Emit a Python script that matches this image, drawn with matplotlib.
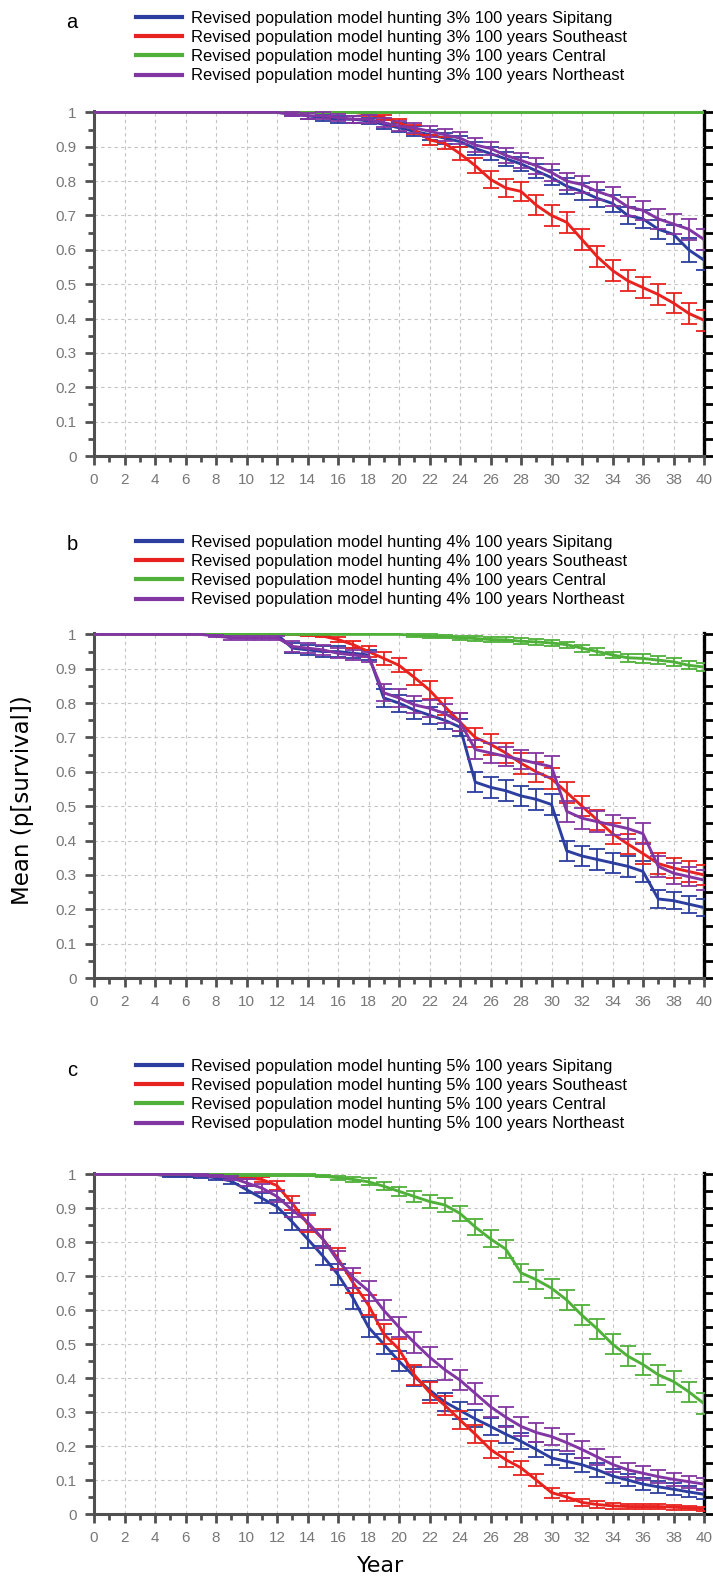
import numpy as np
import matplotlib
matplotlib.use('Agg')
import matplotlib.pyplot as plt
from matplotlib.ticker import MultipleLocator, FuncFormatter
from matplotlib.lines import Line2D

# years of the simulation
years = list(range(41))
sites = ['Sipitang', 'Southeast', 'Central', 'Northeast']
rates = ['3%', '4%', '5%']
panel_letters = ['a', 'b', 'c']
colors = ['#2c3e9f', '#e8221f', '#4fb13a', '#8236a3']

# ---- panel a, hunting 3% ----
a_sip = [1, 1, 1, 1, 1, 1, 1, 1, 1, 1, 1, 1, 1, 0.995, 0.99, 0.985, 0.98, 0.98, 0.975, 0.965,
         0.955, 0.945, 0.935, 0.925, 0.915, 0.895, 0.88, 0.865, 0.85, 0.83, 0.81, 0.785, 0.77, 0.75,
         0.735, 0.70, 0.69, 0.66, 0.645, 0.60, 0.57]
a_sip_err = [0, 0, 0, 0, 0, 0, 0, 0, 0, 0, 0, 0, 0, 0.005, 0.01, 0.01, 0.01, 0.01, 0.01, 0.012,
             0.013, 0.015, 0.015, 0.016, 0.017, 0.018, 0.019, 0.02, 0.02, 0.021, 0.022, 0.023, 0.024,
             0.025, 0.025, 0.026, 0.027, 0.028, 0.028, 0.035, 0.03]
a_se = [1, 1, 1, 1, 1, 1, 1, 1, 1, 1, 1, 1, 1, 1, 1, 1, 1, 1, 0.995, 0.985,
        0.97, 0.95, 0.92, 0.91, 0.88, 0.845, 0.805, 0.78, 0.77, 0.73, 0.70, 0.68, 0.63, 0.58,
        0.54, 0.51, 0.49, 0.47, 0.445, 0.415, 0.395]
a_se_err = [0, 0, 0, 0, 0, 0, 0, 0, 0, 0, 0, 0, 0, 0, 0, 0, 0, 0, 0.005, 0.008,
            0.01, 0.012, 0.015, 0.017, 0.02, 0.022, 0.024, 0.026, 0.028, 0.03, 0.03, 0.03, 0.03,
            0.03, 0.03, 0.03, 0.03, 0.03, 0.03, 0.03, 0.03]
a_cen = [1] * 41
a_cen_err = [0] * 41
a_ne = [1, 1, 1, 1, 1, 1, 1, 1, 1, 1, 1, 1, 1, 0.995, 0.99, 0.99, 0.985, 0.98, 0.98, 0.97,
        0.96, 0.955, 0.945, 0.935, 0.925, 0.905, 0.895, 0.875, 0.86, 0.845, 0.825, 0.80, 0.79,
        0.77, 0.755, 0.725, 0.715, 0.69, 0.675, 0.66, 0.63]
a_ne_err = [0, 0, 0, 0, 0, 0, 0, 0, 0, 0, 0, 0, 0, 0.005, 0.008, 0.01, 0.01, 0.01, 0.012, 0.013,
            0.014, 0.015, 0.016, 0.017, 0.018, 0.019, 0.02, 0.021, 0.022, 0.023, 0.024, 0.025,
            0.025, 0.026, 0.027, 0.028, 0.028, 0.029, 0.03, 0.03, 0.03]

# ---- panel b, hunting 4% ----
b_sip = [1, 1, 1, 1, 1, 1, 1, 1, 1, 1, 1, 1, 1, 0.96, 0.955, 0.95, 0.95, 0.945, 0.94, 0.815,
         0.80, 0.78, 0.765, 0.75, 0.73, 0.57, 0.555, 0.545, 0.53, 0.52, 0.505, 0.37, 0.355,
         0.345, 0.335, 0.325, 0.31, 0.23, 0.225, 0.215, 0.205]
b_sip_err = [0, 0, 0, 0, 0, 0, 0, 0, 0, 0, 0, 0, 0, 0.015, 0.015, 0.015, 0.015, 0.015, 0.015,
             0.025, 0.025, 0.025, 0.025, 0.025, 0.025, 0.03, 0.03, 0.03, 0.03, 0.03, 0.03, 0.03,
             0.03, 0.03, 0.03, 0.03, 0.03, 0.025, 0.025, 0.025, 0.025]
b_se = [1, 1, 1, 1, 1, 1, 1, 1, 1, 1, 1, 1, 1, 1, 0.998, 0.995, 0.985, 0.97, 0.95, 0.93,
        0.91, 0.875, 0.838, 0.79, 0.745, 0.70, 0.68, 0.655, 0.625, 0.60, 0.58, 0.54, 0.50,
        0.46, 0.42, 0.39, 0.362, 0.333, 0.32, 0.31, 0.30]
b_se_err = [0, 0, 0, 0, 0, 0, 0, 0, 0, 0, 0, 0, 0, 0, 0.002, 0.003, 0.008, 0.01, 0.015, 0.018,
            0.02, 0.022, 0.025, 0.025, 0.027, 0.028, 0.03, 0.03, 0.03, 0.03, 0.03, 0.03, 0.03,
            0.03, 0.03, 0.03, 0.03, 0.03, 0.03, 0.03, 0.03]
b_cen = [1, 1, 1, 1, 1, 1, 1, 1, 1, 1, 1, 1, 1, 1, 1, 1, 1, 1, 1, 1,
         1, 0.997, 0.995, 0.993, 0.99, 0.988, 0.985, 0.984, 0.98, 0.978, 0.975, 0.97, 0.96,
         0.95, 0.94, 0.932, 0.93, 0.925, 0.92, 0.91, 0.905]
b_cen_err = [0, 0, 0, 0, 0, 0, 0, 0, 0, 0, 0, 0, 0, 0, 0, 0, 0, 0, 0, 0,
             0, 0.004, 0.005, 0.005, 0.005, 0.006, 0.006, 0.007, 0.008, 0.008, 0.008, 0.009, 0.01,
             0.01, 0.01, 0.011, 0.012, 0.012, 0.012, 0.012, 0.012]
b_ne = [1, 1, 1, 1, 1, 1, 1, 1, 0.995, 0.99, 0.99, 0.99, 0.99, 0.965, 0.96, 0.955, 0.945, 0.94,
        0.935, 0.83, 0.815, 0.795, 0.785, 0.77, 0.745, 0.665, 0.655, 0.645, 0.635, 0.625, 0.615,
        0.485, 0.465, 0.455, 0.445, 0.435, 0.42, 0.325, 0.305, 0.295, 0.285]
b_ne_err = [0, 0, 0, 0, 0, 0, 0, 0, 0.004, 0.005, 0.005, 0.005, 0.005, 0.015, 0.015, 0.015,
            0.015, 0.015, 0.015, 0.025, 0.025, 0.025, 0.025, 0.027, 0.027, 0.028, 0.028, 0.028,
            0.028, 0.03, 0.03, 0.03, 0.03, 0.03, 0.03, 0.03, 0.03, 0.03, 0.03, 0.028, 0.028]

# ---- panel c, hunting 5% ----
c_sip = [1, 1, 1, 1, 1, 0.995, 0.995, 0.995, 0.99, 0.98, 0.955, 0.93, 0.905, 0.86, 0.81, 0.76,
         0.705, 0.635, 0.55, 0.50, 0.45, 0.405, 0.365, 0.33, 0.305, 0.28, 0.258, 0.235, 0.214,
         0.19, 0.165, 0.155, 0.145, 0.13, 0.112, 0.10, 0.088, 0.08, 0.073, 0.065, 0.058]
c_sip_err = [0, 0, 0, 0, 0, 0.004, 0.004, 0.005, 0.006, 0.008, 0.01, 0.015, 0.02, 0.025, 0.027,
             0.028, 0.03, 0.03, 0.03, 0.03, 0.03, 0.028, 0.028, 0.027, 0.026, 0.025, 0.025,
             0.025, 0.024, 0.023, 0.022, 0.021, 0.02, 0.02, 0.02, 0.019, 0.018, 0.018, 0.017,
             0.016, 0.015]
c_se = [1, 1, 1, 1, 1, 1, 1, 1, 1, 0.998, 0.99, 0.985, 0.967, 0.915, 0.855, 0.81, 0.752, 0.68,
        0.615, 0.53, 0.485, 0.41, 0.358, 0.32, 0.277, 0.235, 0.19, 0.16, 0.136, 0.10, 0.063,
        0.05, 0.034, 0.028, 0.024, 0.022, 0.022, 0.022, 0.02, 0.018, 0.015]
c_se_err = [0, 0, 0, 0, 0, 0, 0, 0, 0, 0.002, 0.005, 0.008, 0.012, 0.02, 0.025, 0.028, 0.03,
            0.03, 0.03, 0.03, 0.03, 0.03, 0.03, 0.028, 0.027, 0.026, 0.025, 0.023, 0.02, 0.018,
            0.015, 0.012, 0.01, 0.009, 0.008, 0.008, 0.008, 0.008, 0.007, 0.007, 0.006]
c_cen = [1, 1, 1, 1, 1, 1, 1, 1, 1, 0.998, 0.998, 0.998, 0.998, 0.998, 0.997, 0.995, 0.99,
         0.985, 0.978, 0.965, 0.95, 0.935, 0.92, 0.91, 0.885, 0.845, 0.81, 0.78, 0.71, 0.69,
         0.665, 0.63, 0.585, 0.545, 0.50, 0.465, 0.44, 0.41, 0.39, 0.36, 0.325]
c_cen_err = [0, 0, 0, 0, 0, 0, 0, 0, 0, 0.002, 0.002, 0.002, 0.002, 0.002, 0.003, 0.004, 0.006,
             0.008, 0.01, 0.012, 0.014, 0.016, 0.018, 0.02, 0.022, 0.024, 0.025, 0.026, 0.027,
             0.028, 0.028, 0.029, 0.03, 0.03, 0.03, 0.03, 0.03, 0.03, 0.03, 0.03, 0.03]
c_ne = [1, 1, 1, 1, 1, 1, 1, 0.998, 0.995, 0.99, 0.975, 0.96, 0.935, 0.895, 0.86, 0.81, 0.745,
        0.695, 0.657, 0.60, 0.55, 0.505, 0.462, 0.425, 0.394, 0.355, 0.316, 0.285, 0.258, 0.24,
        0.228, 0.21, 0.19, 0.168, 0.146, 0.13, 0.12, 0.11, 0.102, 0.095, 0.088]
c_ne_err = [0, 0, 0, 0, 0, 0, 0, 0.002, 0.004, 0.006, 0.01, 0.012, 0.015, 0.02, 0.025, 0.027,
            0.028, 0.03, 0.03, 0.03, 0.03, 0.03, 0.03, 0.03, 0.03, 0.03, 0.03, 0.029, 0.028,
            0.027, 0.026, 0.025, 0.024, 0.023, 0.022, 0.021, 0.02, 0.02, 0.019, 0.018, 0.018]

means = [[a_sip, a_se, a_cen, a_ne],
         [b_sip, b_se, b_cen, b_ne],
         [c_sip, c_se, c_cen, c_ne]]
errors = [[a_sip_err, a_se_err, a_cen_err, a_ne_err],
          [b_sip_err, b_se_err, b_cen_err, b_ne_err],
          [c_sip_err, c_se_err, c_cen_err, c_ne_err]]

W, H = 713, 1581
# axes boxes in pixels: top, bottom (left/right shared)
ax_left, ax_right = 94, 704
ax_rows = [(111, 456), (633, 978), (1173, 1514)]
legend_tops = [11, 535, 1059]
letter_y = [22, 545, 1070]

sans = ['Liberation Sans', 'DejaVu Sans']
axis_grey = '#505050'


def fmt_y(v, pos):
    return '%g' % round(v, 2)


def draw_panel(ax, vals, errs):
    x = np.array(years)
    for i, (v, e, c) in enumerate(zip(vals, errs, colors)):
        v = np.array(v, dtype=float)
        e = np.array(e, dtype=float)
        m = e > 0
        ax.errorbar(x[m], v[m], yerr=e[m], fmt='none', ecolor=c, elinewidth=1.3,
                    capsize=5.5, capthick=1.3, zorder=2 + i)
        ax.plot(x, v, color=c, lw=2.1, zorder=2.5 + i)

    ax.set_xlim(0, 40)
    ax.set_ylim(0, 1.004)
    ax.xaxis.set_major_locator(MultipleLocator(2))
    ax.xaxis.set_minor_locator(MultipleLocator(1))
    ax.yaxis.set_major_locator(MultipleLocator(0.1))
    ax.yaxis.set_minor_locator(MultipleLocator(0.05))
    ax.yaxis.set_major_formatter(FuncFormatter(fmt_y))
    ax.grid(which='major', ls=(0, (3, 3)), color='#c4c4c4', lw=0.8, zorder=0)
    ax.set_axisbelow(True)

    for s in ['top', 'right']:
        ax.spines[s].set_visible(False)
    for s in ['left', 'bottom']:
        ax.spines[s].set_color(axis_grey)
        ax.spines[s].set_linewidth(2.2)

    ax.tick_params(which='major', length=6.5, width=2, color=axis_grey, labelcolor='#777777',
                   labelsize=11)
    ax.tick_params(which='minor', length=4.5, width=2, color=axis_grey)
    ax.tick_params(axis='x', which='major', pad=6)
    ax.tick_params(axis='y', which='major', pad=6)
    for lab in ax.get_xticklabels() + ax.get_yticklabels():
        lab.set_family(sans)

    # black right axis with ticks every 0.05
    sec = ax.secondary_yaxis('right')
    sec.yaxis.set_major_locator(MultipleLocator(0.05))
    sec.tick_params(length=8, width=2, color='black', labelright=False)
    sec.spines['right'].set_color('black')
    sec.spines['right'].set_linewidth(2.4)


fig = plt.figure(figsize=(W / 100, H / 100), dpi=100)

for k in range(3):
    top, bot = ax_rows[k]
    ax = fig.add_axes([ax_left / W, 1 - bot / H, (ax_right - ax_left) / W, (bot - top) / H])
    draw_panel(ax, means[k], errors[k])

    handles = [Line2D([], [], color=c, lw=3) for c in colors]
    labels = ['Revised population model hunting %s 100 years %s' % (rates[k], s) for s in sites]
    fig.legend(handles, labels, loc='upper left', bbox_to_anchor=(136 / W, 1 - legend_tops[k] / H),
               frameon=False, borderpad=0, borderaxespad=0, handlelength=2.8,
               handletextpad=0.5, labelspacing=0.25,
               prop={'family': sans, 'size': 11.9})

    fig.text(72 / W, 1 - letter_y[k] / H, panel_letters[k], ha='center', va='center',
             fontsize=14.5, family=sans)

fig.text(23 / W, 1 - 800 / H, 'Mean (p[survival])', rotation=90, ha='center', va='center',
         fontsize=16.5, family=['DejaVu Sans'])
fig.text(381 / W, 1 - 1566 / H, 'Year', ha='center', va='center',
         fontsize=16, family=['DejaVu Sans'])

fig.savefig('out.png', dpi=100)
